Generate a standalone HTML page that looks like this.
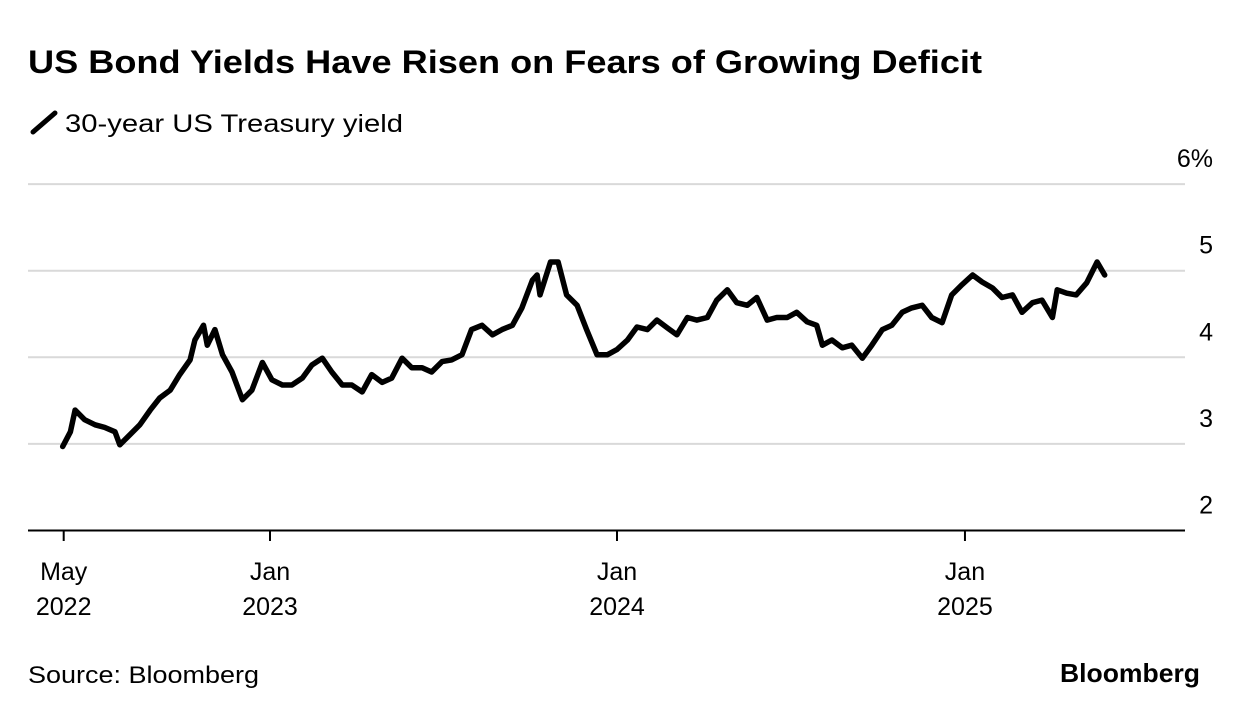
<!DOCTYPE html>
<html><head><meta charset="utf-8"><style>
body{margin:0;background:#fff;width:1240px;height:716px;overflow:hidden;font-family:"Liberation Sans",sans-serif;}
svg{position:absolute;left:0;top:0}
</style></head><body>
<svg width="1240" height="716">
<text x="28" y="73" font-size="32" font-weight="bold" fill="#000" textLength="954" lengthAdjust="spacingAndGlyphs">US Bond Yields Have Risen on Fears of Growing Deficit</text>
<g>
<line x1="33" y1="132" x2="55" y2="113" stroke="#000" stroke-width="5" stroke-linecap="round"/>
<text x="65" y="132" font-size="25" fill="#000" textLength="338" lengthAdjust="spacingAndGlyphs">30-year US Treasury yield</text>
</g>
<g id="grid"></g>
<g id="xaxis"></g>
<g id="series"></g>
<text x="28" y="683" font-size="24" fill="#000" textLength="231" lengthAdjust="spacingAndGlyphs">Source: Bloomberg</text>
<text x="1060" y="682" font-size="26" font-weight="bold" fill="#000" textLength="140" lengthAdjust="spacingAndGlyphs">Bloomberg</text>
</svg>
<script>
const days=[-218,-210,-205,-195,-184,-174,-163,-158,-147,-137,-126,-116,-105,-95,-84,-79,-70,-66,-58,-50,-40,-29,-19,-8,2,13,23,34,44,55,65,76,86,97,107,118,128,139,149,160,170,181,191,202,212,223,234,244,255,265,276,281,284,295,303,312,323,333,344,355,365,376,386,397,407,418,428,439,449,460,470,481,491,502,512,523,533,544,554,565,575,581,591,602,612,623,633,644,654,665,675,686,696,707,717,728,739,749,760,770,781,791,802,812,823,828,838,848,859,870,878];
const yields=[2.97,3.14,3.39,3.28,3.22,3.19,3.14,2.99,3.11,3.22,3.39,3.53,3.62,3.80,3.97,4.20,4.37,4.14,4.32,4.03,3.83,3.51,3.62,3.94,3.74,3.68,3.68,3.76,3.91,3.99,3.83,3.68,3.68,3.60,3.80,3.71,3.76,3.99,3.88,3.88,3.83,3.95,3.97,4.03,4.32,4.37,4.26,4.32,4.37,4.57,4.89,4.95,4.72,5.10,5.10,4.72,4.60,4.32,4.03,4.03,4.09,4.20,4.35,4.32,4.43,4.34,4.26,4.46,4.43,4.46,4.66,4.78,4.63,4.60,4.69,4.43,4.46,4.46,4.52,4.41,4.37,4.14,4.20,4.11,4.14,3.99,4.14,4.32,4.37,4.52,4.57,4.60,4.46,4.40,4.72,4.84,4.95,4.87,4.80,4.69,4.72,4.52,4.63,4.66,4.46,4.78,4.74,4.72,4.86,5.10,4.95];
const yTicks=[2,3,4,5,6];
const yTickLabels=["2","3","4","5","6%"];
const xTickDays=[-217,0,365,731];
const xTickMonths=["May","Jan","Jan","Jan"];
const xTickYears=["2022","2023","2024","2025"];
const NS="http://www.w3.org/2000/svg";
const X=d=>270+d*0.9507;
const Y=v=>530.5-(v-2)*86.6;
function mk(t,a,p){const e=document.createElementNS(NS,t);for(const k in a)e.setAttribute(k,a[k]);p.appendChild(e);return e;}
const grid=document.getElementById('grid');
yTicks.forEach((v,i)=>{
  if(v>2){const l=mk('line',{x1:28,x2:1185,y1:Y(v),y2:Y(v),stroke:'#d9d9d9','stroke-width':2},grid);
  
  }
  const t=mk('text',{x:1213,y:Y(v)-17,'font-size':25,'text-anchor':'end',fill:'#000'},grid);
  t.textContent=yTickLabels[i];
  
  
});
const xa=document.getElementById('xaxis');
const ax=mk('line',{x1:28,x2:1185,y1:530.5,y2:530.5,stroke:'#000','stroke-width':2},xa);


xTickDays.forEach((d,i)=>{
  const x=X(d);
  mk('line',{x1:x,x2:x,y1:530,y2:541,stroke:'#000','stroke-width':2},xa);
  const t=mk('text',{x:x,y:580,'font-size':25,'text-anchor':'middle',fill:'#000'},xa);
  t.textContent=xTickMonths[i];
  
  
  const t2=mk('text',{x:x,y:615,'font-size':25,'text-anchor':'middle',fill:'#000'},xa);
  t2.textContent=xTickYears[i];
  
  
});
const s=document.getElementById('series');
const p=mk('path',{d:days.map((d,i)=>(i?'L':'M')+X(d).toFixed(1)+','+Y(yields[i]).toFixed(1)).join(''),fill:'none',stroke:'#000','stroke-width':5.5,'stroke-linejoin':'round','stroke-linecap':'round'},s);


</script>
</body></html>
